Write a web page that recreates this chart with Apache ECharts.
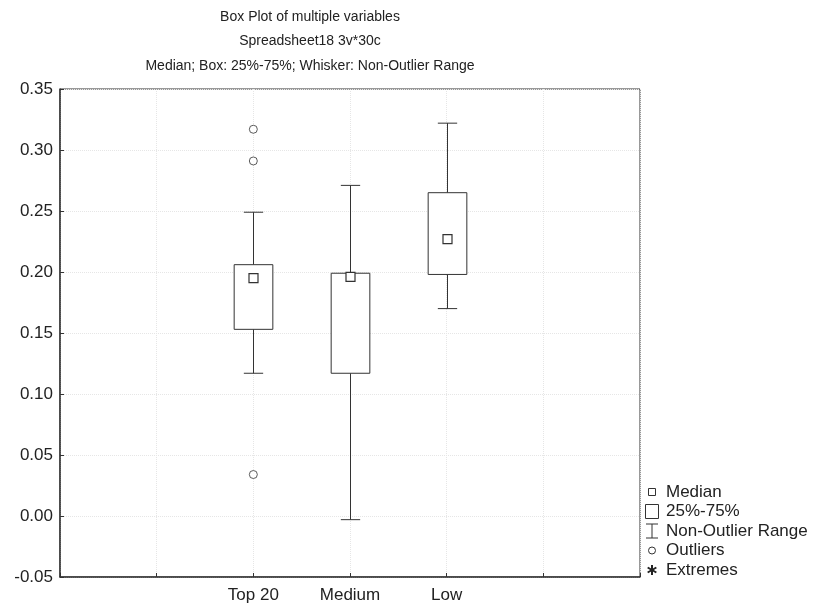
<!DOCTYPE html>
<html>
<head>
<meta charset="utf-8">
<script src="https://cdn.jsdelivr.net/npm/echarts@6/dist/echarts.min.js"></script>
<style>html,body{margin:0;padding:0;background:#fff;}#c{width:815px;height:609px;}</style>
</head>
<body>
<div id="c"></div>
<script>
// ---- data ----
const categories   = ['Top 20', 'Medium', 'Low'];
const whiskerLow   = [0.117, -0.003, 0.170];
const quartile1    = [0.153, 0.117, 0.198];
const medians      = [0.195, 0.196, 0.227];
const quartile3    = [0.206, 0.199, 0.265];
const whiskerHigh  = [0.249, 0.271, 0.322];
const outlierCategory = ['Top 20', 'Top 20', 'Top 20'];
const outlierValues   = [0.317, 0.291, 0.034];
const yMin = -0.05, yMax = 0.35, yStep = 0.05;
const titleLines = ['Box Plot of multiple variables', 'Spreadsheet18 3v*30c', 'Median; Box: 25%-75%; Whisker: Non-Outlier Range'];
const legendLabels = ['Median', '25%-75%', 'Non-Outlier Range', 'Outliers', 'Extremes'];

// axis slots: two empty slots either side, as in the reference
const axisSlots = ['', ''].concat(categories, ['', '']);
const slotOf = name => axisSlots.indexOf(name);

const boxData = categories.map((c, i) => [slotOf(c), whiskerLow[i], quartile1[i], medians[i], quartile3[i], whiskerHigh[i]]);
const outlierData = outlierCategory.map((c, i) => [slotOf(c), outlierValues[i]]);

const INK = '#333';
const FONT = 'Liberation Sans, Arial, sans-serif';

function renderBox(params, api) {
  const idx = api.value(0);
  const lo = api.coord([idx, api.value(1)]);
  const b1 = api.coord([idx, api.value(2)]);
  const md = api.coord([idx, api.value(3)]);
  const b3 = api.coord([idx, api.value(4)]);
  const hi = api.coord([idx, api.value(5)]);
  const band = api.size([1, 0])[0];
  const hb = band * 0.2, hc = band * 0.1;
  const x = Math.round(lo[0]) + 0.5;
  const st = {stroke: INK, lineWidth: 1, fill: null};
  return {
    type: 'group',
    children: [
      {type: 'line', shape: {x1: x, y1: b3[1], x2: x, y2: hi[1]}, style: st},
      {type: 'line', shape: {x1: x - hc, y1: hi[1], x2: x + hc, y2: hi[1]}, style: st},
      {type: 'line', shape: {x1: x, y1: b1[1], x2: x, y2: lo[1]}, style: st},
      {type: 'line', shape: {x1: x - hc, y1: lo[1], x2: x + hc, y2: lo[1]}, style: st},
      {type: 'rect', shape: {x: x - hb, y: b3[1], width: 2 * hb, height: b1[1] - b3[1]}, style: {stroke: INK, lineWidth: 1, fill: '#fff'}},
      {type: 'rect', shape: {x: x - 4.5, y: md[1] - 4.5, width: 9, height: 9}, style: {stroke: INK, lineWidth: 1.2, fill: '#fff'}}
    ]
  };
}

// legend drawn with graphic elements
const lgX = 652, lgTextX = 666, lgY0 = 492, lgDy = 19.5;
const legendGraphics = [];
legendLabels.forEach((t, i) => {
  legendGraphics.push({type: 'text', x: lgTextX, y: lgY0 + i * lgDy,
    style: {text: t, font: '17px ' + FONT, fill: '#222', align: 'left', verticalAlign: 'middle'}});
});
const s = {stroke: INK, lineWidth: 1, fill: '#fff'};
legendGraphics.push(
  {type: 'rect', shape: {x: lgX - 3.5, y: lgY0 - 3.5, width: 7, height: 7}, style: s},
  {type: 'rect', shape: {x: lgX - 6.5, y: lgY0 + lgDy - 7, width: 13, height: 14}, style: s},
  {type: 'line', shape: {x1: lgX - 6, y1: lgY0 + 2 * lgDy - 7, x2: lgX + 6, y2: lgY0 + 2 * lgDy - 7}, style: s},
  {type: 'line', shape: {x1: lgX, y1: lgY0 + 2 * lgDy - 7, x2: lgX, y2: lgY0 + 2 * lgDy + 7}, style: s},
  {type: 'line', shape: {x1: lgX - 6, y1: lgY0 + 2 * lgDy + 7, x2: lgX + 6, y2: lgY0 + 2 * lgDy + 7}, style: s},
  {type: 'circle', shape: {cx: lgX, cy: lgY0 + 3 * lgDy, r: 3.5}, style: s}
);
const sy = lgY0 + 4 * lgDy;
[0, 60, 120].forEach(a => {
  const r = 5, rad = a * Math.PI / 180;
  legendGraphics.push({type: 'line', shape: {x1: lgX - r * Math.sin(rad), y1: sy - r * Math.cos(rad), x2: lgX + r * Math.sin(rad), y2: sy + r * Math.cos(rad)}, style: {stroke: '#222', lineWidth: 2}});
});

const titleGraphics = titleLines.map((t, i) => ({
  type: 'text', x: 310, y: 17 + i * 24.5,
  style: {text: t, font: '14px ' + FONT, fill: '#222', align: 'center', verticalAlign: 'middle'}
}));

const chart = echarts.init(document.getElementById('c'), null, {renderer: 'canvas'});
chart.setOption({
  backgroundColor: '#fff',
  animation: false,
  grid: {left: 60, right: 175, top: 89, bottom: 32, show: true, borderColor: INK, borderWidth: 1, backgroundColor: 'transparent'},
  xAxis: {
    type: 'category', data: axisSlots, boundaryGap: false,
    axisLine: {onZero: false, lineStyle: {color: INK, width: 1.5}},
    axisTick: {inside: true, length: 4, interval: 0, lineStyle: {color: INK}},
    axisLabel: {interval: 0, color: '#222', fontSize: 17, fontFamily: FONT, margin: 10},
    splitLine: {show: true, interval: 0, lineStyle: {color: '#e6e6e6', type: 'dotted'}}
  },
  yAxis: {
    type: 'value', min: yMin, max: yMax, interval: yStep,
    axisLine: {show: true, onZero: false, lineStyle: {color: INK, width: 1.5}},
    axisTick: {show: true, inside: true, length: 4, lineStyle: {color: INK}},
    axisLabel: {color: '#222', fontSize: 17, fontFamily: FONT, margin: 7, formatter: v => v.toFixed(2)},
    splitLine: {show: true, lineStyle: {color: '#e6e6e6', type: 'dotted'}}
  },
  series: [
    {type: 'custom', renderItem: renderBox, data: boxData, encode: {x: 0, y: [1, 2, 3, 4, 5]}, z: 3},
    {type: 'scatter', data: outlierData, symbol: 'circle', symbolSize: 8,
     itemStyle: {color: '#fff', borderColor: INK, borderWidth: 1}, z: 4}
  ],
  graphic: titleGraphics.concat(legendGraphics)
});
</script>
</body>
</html>
